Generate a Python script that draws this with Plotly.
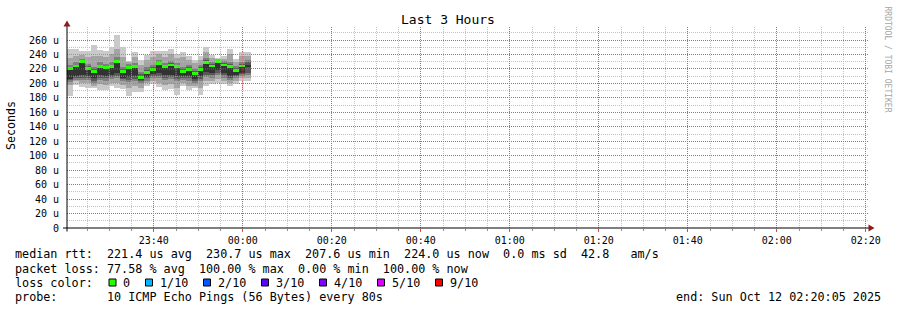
import plotly.graph_objects as go
from datetime import datetime, timedelta

# ---------------- data ----------------
chart_title = "Last 3 Hours"
y_title = "Seconds"
watermark = "RRDTOOL / TOBI OETIKER"

range_start = datetime(2025, 10, 11, 23, 20, 30)
range_end = datetime(2025, 10, 12, 2, 20, 30)
step_seconds = 80
first_step = datetime(2025, 10, 11, 23, 20, 30)

# sorted ping round-trip times per 80 s step (microseconds), ping_01 = fastest ... ping_10 = slowest
ping_01 = [182, 198, 195, 194, 193, 191.5, 191.5, 197, 194, 192, 182, 188, 188.7, 197, 199, 194.7,
           191.5, 192, 184.6, 197, 191.5, 193, 184.6, 197, 199, 200.7, 199, 197, 199, 204, 203]
ping_02 = [198, 203, 201, 200, 197, 199, 198, 201, 200, 198, 193, 196, 193, 200, 203, 200,
           198, 199, 194, 201, 197, 197, 194, 203, 204, 206, 204, 201, 203, 207, 207]
ping_03 = [202, 205, 205, 205, 201, 205, 204, 206, 207, 203, 202, 203, 200, 204, 207, 207,
           205, 206, 203, 205, 204, 201, 203, 209, 208, 212, 208, 205, 207, 210, 211]
ping_04 = [205, 208, 208, 208, 204, 208, 207, 209, 210, 206, 205, 206, 203, 207, 210, 210,
           208, 209, 206, 208, 207, 204, 206, 212, 211, 215, 211, 208, 210, 213, 214]
ping_05 = [206, 210, 212, 210, 207, 211, 210, 212, 214, 208, 209, 210, 205, 209, 213, 214,
           212, 212, 210, 210, 210, 206, 210, 216, 214, 218, 214, 210, 212, 215, 223]
ping_06 = [221, 222, 230, 220, 215, 222, 220, 222, 231, 216, 221, 222, 208, 215, 219, 227,
           222, 225, 222, 216, 219, 213, 219, 230, 223, 231, 225, 223, 217, 223, 226]
ping_07 = [223, 226, 231, 224, 220, 226, 224, 226, 233, 220, 224, 225, 213, 219, 223, 230,
           225, 228, 225, 220, 222, 217, 222, 232, 227, 232, 228, 227, 221, 227, 229]
ping_08 = [226, 229, 234, 227, 223, 229, 227, 229, 236, 223, 227, 228, 216, 222, 226, 233,
           228, 231, 228, 223, 225, 220, 225, 235, 230, 233, 231, 230, 224, 230, 232]
ping_09 = [235, 238, 239, 236, 238, 238, 236, 240, 248, 236, 229, 236, 226, 232, 237, 240,
           237, 240, 235, 236, 232, 228, 232, 244, 235, 234, 234, 241, 230, 238, 238]
ping_10 = [247, 247, 245, 245, 253, 246.7, 245, 250, 267, 250, 231.5, 244, 232, 239, 245, 245,
           245, 247.6, 240.7, 244, 237.5, 233, 238, 251, 239, 234.7, 237.5, 247.6, 233.8, 243, 243]

# median rtt per step (microseconds); None = no median drawn
median_rtt = [220, 224, 229.7, 221, 216, 223.5, 221.4, 223.5, 230.7, 216.8, 222, 222.8, 207.6, 215.4,
              219.5, 228, 222.8, 225.5, 222.8, 217, 219.5, 213.6, 219.5, 229, 224, 230.7, 225.5,
              223.5, 218, 224, None]

x_tick_labels = ["23:40", "00:00", "00:20", "00:40", "01:00", "01:20", "01:40", "02:00", "02:20"]
y_tick_values = [0, 20, 40, 60, 80, 100, 120, 140, 160, 180, 200, 220, 240, 260]
y_tick_labels = ["0", "20 u", "40 u", "60 u", "80 u", "100 u", "120 u", "140 u", "160 u",
                 "180 u", "200 u", "220 u", "240 u", "260 u"]

legend_rtt = "median rtt:  221.4 us avg  230.7 us max  207.6 us min  224.0 us now  0.0 ms sd  42.8   am/s"
legend_loss = "packet loss: 77.58 % avg  100.00 % max  0.00 % min  100.00 % now"
legend_color_label = "loss color:"
loss_levels = ["0", "1/10", "2/10", "3/10", "4/10", "5/10", "9/10"]
loss_colors = ["#26ff00", "#00b8ff", "#0059ff", "#5e00ff", "#7e00ff", "#dd00ff", "#ff0000"]
legend_probe = "probe:       10 ICMP Echo Pings (56 Bytes) every 80s"
legend_end = "end: Sun Oct 12 02:20:05 2025"

# ---------------- figure ----------------
W, H = 897, 310
ML, MR, MT, MB = 67, 29, 27, 82
PW, PH = W - ML - MR, H - MT - MB
MONO = "DejaVu Sans Mono"
MAJOR_GRID = "#f05050"
MINOR_GRID = "#c4c4c4"
DOTS = "1px,1px"


def xp(px):
    return (px - ML) / PW


def yp(py):
    return (MT + PH - py) / PH


n = len(median_rtt)
centers = [first_step + timedelta(seconds=step_seconds * (k + 0.5)) for k in range(n)]
width_ms = step_seconds * 1000

pings = [ping_01, ping_02, ping_03, ping_04, ping_05, ping_06, ping_07, ping_08, ping_09, ping_10]
smoke_colors = ["#cacaca", "#a4a4a4", "#7e7e7e", "#585858", "#323232"]

fig = go.Figure()
for i in range(5):
    lo = pings[i]
    hi = pings[9 - i]
    fig.add_trace(go.Bar(
        x=centers, base=lo, y=[h - l for h, l in zip(hi, lo)], width=width_ms,
        marker=dict(color=smoke_colors[i], line=dict(width=0)),
        hoverinfo="skip", showlegend=False))

med_x = [c for c, m in zip(centers, median_rtt) if m is not None]
med_v = [m for m in median_rtt if m is not None]
fig.add_trace(go.Bar(
    x=med_x, base=[m - 2 for m in med_v], y=[4] * len(med_v), width=width_ms,
    marker=dict(color=loss_colors[0], line=dict(width=0)),
    hoverinfo="skip", showlegend=False))


def tick_time(lbl):
    hh, mm = map(int, lbl.split(":"))
    day = 11 if hh >= 12 else 12
    return datetime(2025, 10, day, hh, mm)


x_tick_vals = [tick_time(t) for t in x_tick_labels]
x_minor_vals = []
t = datetime(2025, 10, 11, 23, 25)
while t <= range_end:
    if t not in x_tick_vals:
        x_minor_vals.append(t)
    t += timedelta(minutes=5)
y_minor_vals = [v for v in range(10, 279, 10) if v not in y_tick_values]

fig.update_layout(
    width=W, height=H, margin=dict(l=ML, r=MR, t=MT, b=MB),
    paper_bgcolor="white", plot_bgcolor="white",
    barmode="overlay", bargap=0,
    font=dict(family=MONO, color="black", size=10),
    xaxis=dict(
        type="date", range=[range_start, range_end],
        tickmode="array", tickvals=x_tick_vals, ticktext=x_tick_labels,
        tickfont=dict(family=MONO, size=10, color="black"),
        showgrid=True, gridcolor=MAJOR_GRID, gridwidth=1, griddash=DOTS,
        ticks="outside", ticklen=3, tickcolor="#e04848", tickwidth=1,
        minor=dict(tickmode="array", tickvals=x_minor_vals, showgrid=True,
                   gridcolor=MINOR_GRID, griddash=DOTS, gridwidth=1,
                   ticks="outside", ticklen=2, tickcolor="#909090"),
        showline=False, zeroline=False, fixedrange=True,
    ),
    yaxis=dict(
        range=[0, 278], tickmode="array", tickvals=y_tick_values, ticktext=y_tick_labels,
        tickfont=dict(family=MONO, size=10, color="black"),
        showgrid=True, gridcolor=MAJOR_GRID, gridwidth=1, griddash=DOTS,
        ticks="outside", ticklen=5, tickcolor="rgba(0,0,0,0)",
        minor=dict(tickmode="array", tickvals=y_minor_vals, showgrid=True,
                   gridcolor=MINOR_GRID, griddash=DOTS, gridwidth=1),
        showline=False, zeroline=False, fixedrange=True,
    ),
)

shapes = []
# rrdtool paints the grid over the graph: repeat the grid over the smoke region
data_end = first_step + timedelta(seconds=step_seconds * n)
for v in y_minor_vals + y_tick_values:
    if 190 <= v <= 250:
        col = MAJOR_GRID if v in y_tick_values else MINOR_GRID
        shapes.append(dict(type="line", xref="x", yref="y", x0=range_start, x1=data_end, y0=v, y1=v,
                           line=dict(color=col, width=1, dash=DOTS), layer="above", opacity=0.7))
for tv in x_minor_vals + x_tick_vals:
    if tv <= data_end:
        col = MAJOR_GRID if tv in x_tick_vals else MINOR_GRID
        shapes.append(dict(type="line", xref="x", yref="y", x0=tv, x1=tv, y0=192, y1=245,
                           line=dict(color=col, width=1, dash=DOTS), layer="above", opacity=0.7))

axis_col = "black"
arrow_col = "#8e1c1c"
shapes.append(dict(type="line", xref="paper", yref="paper", x0=xp(67), x1=xp(67), y0=yp(231.5), y1=yp(25),
                   line=dict(color=axis_col, width=1), layer="above"))
shapes.append(dict(type="line", xref="paper", yref="paper", x0=xp(63), x1=xp(869), y0=yp(228), y1=yp(228),
                   line=dict(color=axis_col, width=1), layer="above"))
shapes.append(dict(type="path", xref="paper", yref="paper",
                   path=f"M {xp(63.5)} {yp(26.5)} L {xp(70.5)} {yp(26.5)} L {xp(67)} {yp(20.5)} Z",
                   fillcolor=arrow_col, line=dict(color=arrow_col, width=0), layer="above"))
shapes.append(dict(type="path", xref="paper", yref="paper",
                   path=f"M {xp(868.5)} {yp(224.5)} L {xp(868.5)} {yp(231.5)} L {xp(874.5)} {yp(228)} Z",
                   fillcolor=arrow_col, line=dict(color=arrow_col, width=0), layer="above"))

annotations = []


def txt(text, x, y, size=11.75, xanchor="left", yanchor="middle", color="black", angle=0):
    annotations.append(dict(text=text.replace(" ", "\u00a0"), x=xp(x), y=yp(y), xref="paper", yref="paper",
                            xanchor=xanchor, yanchor=yanchor, showarrow=False, textangle=angle,
                            font=dict(family=MONO, size=size, color=color), borderpad=0, borderwidth=0))


txt(chart_title, 448, 19.5, size=13, xanchor="center")
txt(y_title, 11, 126, size=11.6, xanchor="center", angle=-90)
txt(watermark, 887.5, 59, size=8, xanchor="center", color="#a6a6a6", angle=90)

txt(legend_rtt, 15, 253.5)
txt(legend_loss, 15, 268.5)
txt(legend_color_label, 15, 282.8)
txt(legend_probe, 15, 297)
txt(legend_end, 881, 297, xanchor="right")

box_x = [109, 145.5, 203.5, 261.5, 319.5, 377.5, 435.5]
for i, (lvl, col) in enumerate(zip(loss_levels, loss_colors)):
    bx = box_x[i]
    shapes.append(dict(type="rect", xref="paper", yref="paper", x0=xp(bx), x1=xp(bx + 7),
                       y0=yp(286), y1=yp(279), fillcolor=col, line=dict(color="black", width=1),
                       layer="above"))
    txt(lvl, bx + 14, 282.8)

fig.update_layout(shapes=shapes, annotations=annotations)
fig.write_html("out.html")
